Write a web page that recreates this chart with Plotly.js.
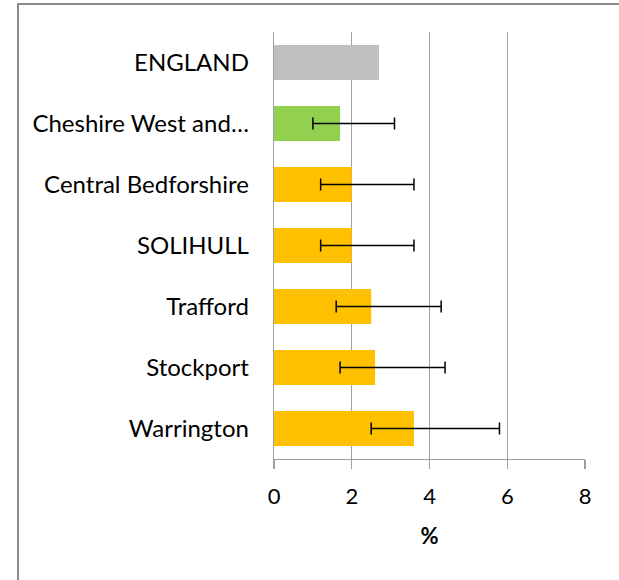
<!DOCTYPE html>
<html><head><meta charset="utf-8">
<script src="https://cdn.plot.ly/plotly-3.0.1.min.js"></script>
<style>
html,body{margin:0;padding:0;background:#fff;overflow:hidden;width:619px;height:580px;}
#frame{position:absolute;left:17px;top:3px;width:800px;height:800px;border:2px solid #8c8c8c;}
#chart{position:absolute;left:0;top:0;width:619px;height:580px;}
</style></head>
<body>
<div id="frame"></div>
<div id="chart"></div>
<script>
const categories = ['ENGLAND','Cheshire West and…','Central Bedforshire','SOLIHULL','Trafford','Stockport','Warrington'];
const values = [2.7, 1.7, 2.0, 2.0, 2.5, 2.6, 3.6];
const lower = [null, 1.0, 1.2, 1.2, 1.6, 1.7, 2.5];
const upper = [null, 3.1, 3.6, 3.6, 4.3, 4.4, 5.8];
const barColors = ['#BFBFBF','#92D050','#FFC000','#FFC000','#FFC000','#FFC000','#FFC000'];
const xTicks = [0, 2, 4, 6, 8];

const idxE = [0];
const idxO = [1,2,3,4,5,6];
const pick = (arr, idx) => idx.map(i => arr[i]);

const traces = [
  {type:'bar', orientation:'h', y: pick(categories, idxE), x: pick(values, idxE),
   marker:{color: pick(barColors, idxE)}, width:0.57, hoverinfo:'x+y'},
  {type:'bar', orientation:'h', y: pick(categories, idxO), x: pick(values, idxO),
   marker:{color: pick(barColors, idxO)}, width:0.57,
   error_x:{type:'data', symmetric:false,
     array: idxO.map(i => upper[i] - values[i]),
     arrayminus: idxO.map(i => values[i] - lower[i]),
     color:'#000', thickness:1.5, width:6}}
];

const layout = {
  width:619, height:580,
  margin:{l:274, r:34, t:32, b:121},
  paper_bgcolor:'rgba(0,0,0,0)', plot_bgcolor:'rgba(0,0,0,0)',
  showlegend:false, barmode:'overlay',
  font:{family:'Lato, "Open Sans", sans-serif', color:'#000'},
  xaxis:{range:[0,8], tickvals:xTicks, ticktext:xTicks.map(String),
    showgrid:true, gridcolor:'#a0a0a0', gridwidth:1.3,
    zeroline:false, showline:true, linecolor:'#a0a0a0', linewidth:1.3,
    ticks:'outside', ticklen:9, tickcolor:'#a0a0a0', tickwidth:1.3,
    tickfont:{size:22}, ticklabelstandoff:8,
    title:{text:'<b>%</b>', font:{size:22}, standoff:21}, fixedrange:true},
  yaxis:{type:'category', categoryorder:'array', categoryarray:categories, autorange:'reversed',
    showgrid:false, zeroline:false, showline:true, linecolor:'#a0a0a0', linewidth:1.3,
    ticks:'', tickfont:{size:24}, ticklabelstandoff:19, fixedrange:true}
};

Plotly.newPlot('chart', traces, layout, {displayModeBar:false, staticPlot:true});
</script>
</body></html>
